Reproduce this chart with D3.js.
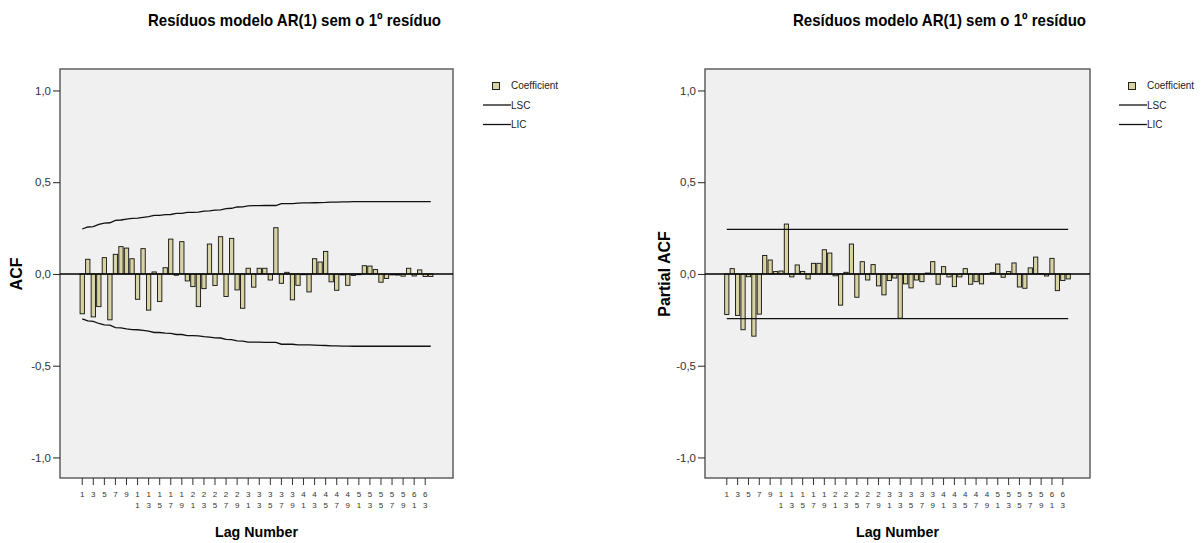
<!DOCTYPE html>
<html>
<head>
<meta charset="utf-8">
<script src="https://cdn.jsdelivr.net/npm/d3@7"></script>
<style>
body { margin: 0; background: #fff; }
svg { display: block; font-family: "Liberation Sans", Arial, sans-serif; }
</style>
</head>
<body>
<svg width="1203" height="543"></svg>
<script>
// lags 1..64
var lags = d3.range(1, 65);

var acf = [-0.217, 0.080, -0.234, -0.178, 0.089, -0.250, 0.107, 0.149, 0.141, 0.083,
           -0.138, 0.138, -0.197, 0.011, -0.150, 0.034, 0.190, -0.007, 0.176, -0.038,
           -0.069, -0.178, -0.080, 0.163, -0.063, 0.203, -0.123, 0.194, -0.087, -0.187,
           0.031, -0.072, 0.031, 0.031, -0.033, 0.252, -0.051, 0.009, -0.141, -0.062,
           -0.004, -0.098, 0.083, 0.065, 0.123, -0.043, -0.089, -0.005, -0.062, -0.008,
           -0.004, 0.045, 0.043, 0.024, -0.045, -0.025, -0.005, -0.006, -0.012, 0.031,
           -0.011, 0.022, -0.014, -0.014];

// upper confidence limit of the ACF (LSC); LIC is its mirror
var acfBound = [0.245, 0.256, 0.258, 0.270, 0.277, 0.279, 0.292, 0.294, 0.299, 0.303,
                0.304, 0.308, 0.312, 0.319, 0.319, 0.323, 0.324, 0.330, 0.330, 0.336,
                0.336, 0.337, 0.342, 0.344, 0.348, 0.349, 0.356, 0.358, 0.365, 0.366,
                0.371, 0.372, 0.372, 0.373, 0.373, 0.373, 0.383, 0.383, 0.383, 0.386,
                0.387, 0.387, 0.388, 0.389, 0.390, 0.392, 0.392, 0.393, 0.393, 0.394,
                0.394, 0.394, 0.394, 0.394, 0.394, 0.394, 0.394, 0.394, 0.394, 0.394,
                0.394, 0.394, 0.394, 0.394];

var pacf = [-0.221, 0.029, -0.226, -0.304, -0.015, -0.339, -0.219, 0.101, 0.076, 0.013,
            0.016, 0.272, -0.016, 0.049, 0.014, -0.027, 0.058, 0.058, 0.132, 0.114,
            -0.010, -0.170, 0.009, 0.163, -0.127, 0.067, -0.033, 0.051, -0.065, -0.114,
            -0.036, -0.022, -0.241, -0.054, -0.076, -0.033, -0.042, 0.005, 0.067, -0.056,
            0.040, -0.016, -0.069, -0.016, 0.029, -0.056, -0.042, -0.054, 0.002, 0.007,
            0.054, -0.018, 0.013, 0.060, -0.071, -0.078, 0.033, 0.092, 0.002, -0.011,
            0.085, -0.091, -0.036, -0.027];

var pacfBound = 0.243;

var yTicks = [-1, -0.5, 0, 0.5, 1];
var chartTitle = "Resíduos modelo AR(1) sem o 1º resíduo";
var legendLabels = ["Coefficient", "LSC", "LIC"];

var svg = d3.select("svg");
var barFill = "#d8d3a3";
var font = "Liberation Sans, Arial, sans-serif";

// portuguese style numbers: 0,5 and -1,0
var locale = d3.formatLocale({decimal: ",", thousands: ".", grouping: [3], currency: ["", ""], minus: "-"});
var fmt = locale.format(".1f");

function drawPanel(opt) {
  var left = opt.left, right = opt.right, top = 69, bottom = 478;

  var x = d3.scaleBand().domain(lags).range([left, right])
      .paddingInner(0.22).paddingOuter(3.63);
  var y = d3.scaleLinear().domain([-1.112, 1.117]).range([bottom, top]);
  var g = svg.append("g");

  // title
  g.append("text")
      .attr("x", opt.titleX)
      .attr("y", 26)
      .attr("font-size", 17)
      .attr("font-weight", "bold")
      .attr("textLength", 293)
      .attr("lengthAdjust", "spacingAndGlyphs")
      .text(chartTitle);

  // plot background
  g.append("rect")
      .attr("x", left).attr("y", top)
      .attr("width", right - left).attr("height", bottom - top)
      .attr("fill", "#f0f0f0")
      .attr("stroke", "#555")
      .attr("stroke-width", 1.4);

  // y axis
  var yAxis = g.append("g")
      .attr("transform", "translate(" + left + ",0)")
      .call(d3.axisLeft(y).tickValues(yTicks).tickFormat(fmt).tickSize(7).tickPadding(2));
  yAxis.select(".domain").remove();
  yAxis.attr("font-family", font).attr("font-size", 11.5);
  yAxis.selectAll("line").attr("stroke", "#222");
  yAxis.selectAll("text").attr("fill", "#333");

  // x axis, lag labels written one digit per line
  var xAxis = g.append("g")
      .attr("transform", "translate(0," + bottom + ")")
      .call(d3.axisBottom(x).tickValues(lags.filter(function(d) { return d % 2 == 1; })).tickSize(7));
  xAxis.select(".domain").remove();
  xAxis.attr("font-family", font).attr("font-size", 8);
  xAxis.selectAll("line").attr("stroke", "#333");
  xAxis.selectAll(".tick text").each(function(d) {
    var t = d3.select(this).attr("y", 19).attr("dy", null).attr("fill", "#333");
    t.text(null);
    String(d).split("").forEach(function(c, i) {
      t.append("tspan").attr("x", 0).attr("dy", i ? 11 : 0).text(c);
    });
  });

  // bars
  g.selectAll(".bar")
    .data(opt.values)
    .enter().append("rect")
      .attr("class", "bar")
      .attr("x", function(d, i) { return x(lags[i]); })
      .attr("width", x.bandwidth())
      .attr("y", function(d) { return y(Math.max(0, d)); })
      .attr("height", function(d) { return Math.abs(y(d) - y(0)); })
      .attr("fill", barFill)
      .attr("stroke", "#111")
      .attr("stroke-width", 0.9);

  // zero line
  g.append("line")
      .attr("x1", left).attr("x2", right)
      .attr("y1", y(0)).attr("y2", y(0))
      .attr("stroke", "#000")
      .attr("stroke-width", 1.5);

  // confidence limits
  var line = d3.line()
      .x(function(d) { return x(d.lag) + x.bandwidth() / 2; })
      .y(function(d) { return y(d.v); });

  var upper = lags.map(function(l, i) { return {lag: l, v: opt.bound(i)}; });
  var lower = lags.map(function(l, i) { return {lag: l, v: -opt.bound(i)}; });
  [upper, lower].forEach(function(pts) {
    g.append("path")
        .attr("d", line(pts))
        .attr("fill", "none")
        .attr("stroke", "#111")
        .attr("stroke-width", 1.3);
  });

  // axis titles
  g.append("text")
      .attr("x", (left + right) / 2)
      .attr("y", 537)
      .attr("text-anchor", "middle")
      .attr("font-size", 15.5)
      .attr("font-weight", "bold")
      .attr("textLength", 83)
      .attr("lengthAdjust", "spacingAndGlyphs")
      .text("Lag Number");

  g.append("text")
      .attr("transform", "translate(" + opt.yLabelX + "," + y(0) + ") rotate(-90)")
      .attr("text-anchor", "middle")
      .attr("font-size", 16)
      .attr("font-weight", "bold")
      .text(opt.yLabel);

  // legend
  var lx = opt.legendX;
  var lg = g.append("g").attr("font-size", 10).attr("fill", "#222");
  lg.append("rect")
      .attr("x", lx + 9.5).attr("y", 82.5)
      .attr("width", 7).attr("height", 7)
      .attr("fill", barFill)
      .attr("stroke", "#222");
  lg.append("text").attr("x", lx + 28).attr("y", 89).text(legendLabels[0]);
  [105, 124.5].forEach(function(ly, i) {
    lg.append("line")
        .attr("x1", lx).attr("x2", lx + 28)
        .attr("y1", ly).attr("y2", ly)
        .attr("stroke", "#111")
        .attr("stroke-width", 1.3);
    lg.append("text").attr("x", lx + 28).attr("y", ly + 3.5).text(legendLabels[i + 1]);
  });
}

drawPanel({
  left: 60, right: 453, titleX: 148, yLabel: "ACF", yLabelX: 22, legendX: 483,
  values: acf,
  bound: function(i) { return acfBound[i]; }
});

drawPanel({
  left: 705, right: 1090, titleX: 793, yLabel: "Partial ACF", yLabelX: 670, legendX: 1119,
  values: pacf,
  bound: function() { return pacfBound; }
});
</script>
</body>
</html>
